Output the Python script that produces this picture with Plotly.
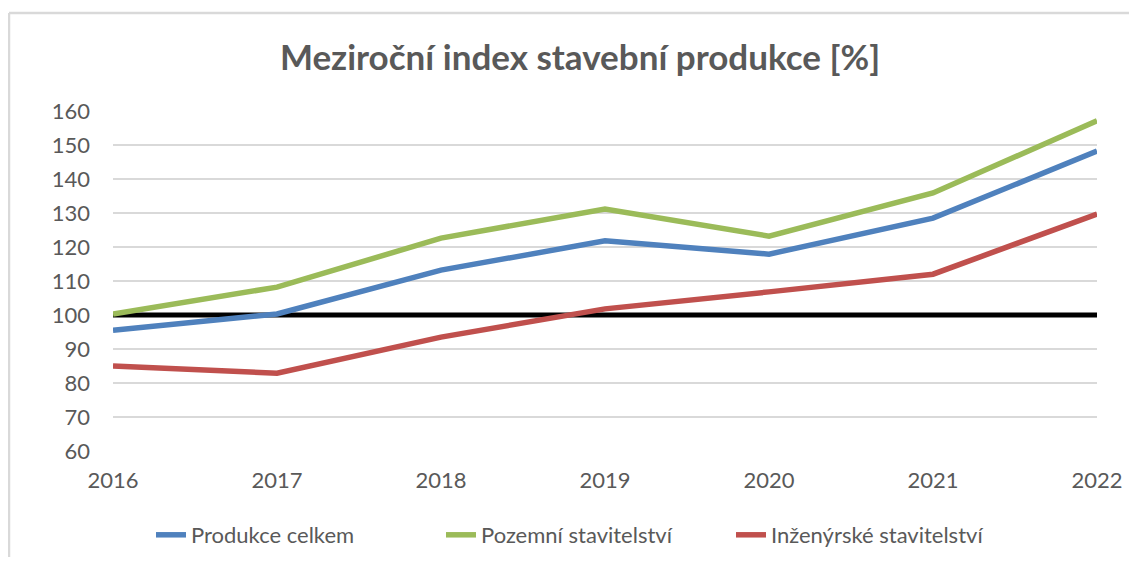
import plotly.graph_objects as go

years = [2016, 2017, 2018, 2019, 2020, 2021, 2022]
produkce_celkem = [95.5, 100.3, 113.2, 121.8, 117.9, 128.5, 148.2]
pozemni = [100.3, 108.2, 122.6, 131.2, 123.2, 135.9, 157.1]
inzenyrske = [85.0, 82.9, 93.5, 101.8, 106.8, 112.0, 129.7]
baseline = [100, 100, 100, 100, 100, 100, 100]
y_ticks = [60, 70, 80, 90, 100, 110, 120, 130, 140, 150, 160]

FONT = "Lato, 'Open Sans', sans-serif"
GREY = "#595959"

W, H = 1121, 549
L, T, PW, PH = 105, 103, 984, 340

fig = go.Figure()
fig.add_trace(go.Scatter(x=years, y=baseline, mode="lines", showlegend=False,
                         line=dict(color="#000000", width=5), hoverinfo="skip"))
fig.add_trace(go.Scatter(x=years, y=produkce_celkem, mode="lines", name="Produkce celkem",
                         line=dict(color="#4F81BD", width=5.5)))
fig.add_trace(go.Scatter(x=years, y=pozemni, mode="lines", name="Pozemní stavitelství",
                         line=dict(color="#9BBB59", width=5.5)))
fig.add_trace(go.Scatter(x=years, y=inzenyrske, mode="lines", name="Inženýrské stavitelství",
                         line=dict(color="#C0504D", width=5.5)))

fig.update_layout(
    width=W, height=H,
    margin=dict(l=L, r=W - L - PW, t=T, b=H - T - PH, autoexpand=False),
    paper_bgcolor="white", plot_bgcolor="white",
    font=dict(family=FONT, color=GREY, size=22),
    title=dict(text="<b>Meziroční index stavební produkce [%]</b>", x=572 / W, xanchor="center",
               y=1 - 50 / H, yanchor="middle", font=dict(size=35, color=GREY, family=FONT)),
    xaxis=dict(range=[2016, 2022], tickvals=years, ticktext=[str(y) for y in years],
               showgrid=False, zeroline=False, showline=False, ticks="", automargin=False,
               ticklabelstandoff=14, tickfont=dict(size=22, color=GREY)),
    yaxis=dict(range=[60, 160], tickvals=y_ticks, showgrid=True, gridcolor="#D9D9D9",
               gridwidth=1.5, zeroline=False, showline=False, ticks="", automargin=False,
               ticklabelstandoff=22, tickfont=dict(size=22, color=GREY)),
    legend=dict(orientation="h", x=578 / W, xref="container", xanchor="center",
                y=(H - 527) / H, yref="container", yanchor="middle",
                entrywidth=245, entrywidthmode="pixels",
                font=dict(size=22, color=GREY), traceorder="normal"),
    showlegend=True,
)

fig.add_shape(type="line", xref="paper", yref="paper",
              x0=(1 - L) / PW, x1=(W - L) / PW, y0=(PH + T - 5) / PH, y1=(PH + T - 5) / PH,
              line=dict(color="#D9D9D9", width=2.5))
fig.add_shape(type="line", xref="paper", yref="paper",
              x0=(1 - L) / PW, x1=(1 - L) / PW, y0=(PH + T - 5) / PH, y1=-0.5,
              line=dict(color="#D9D9D9", width=2.5))

fig.write_html("out.html")
